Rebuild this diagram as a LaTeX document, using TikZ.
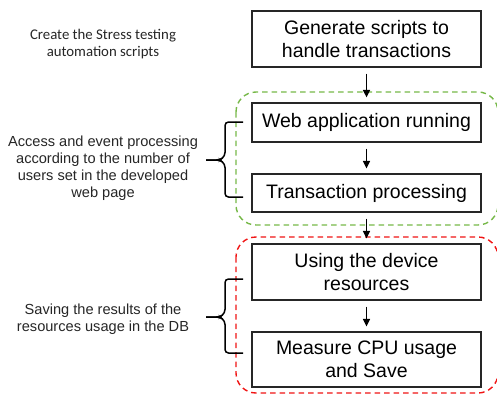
\documentclass[tikz,border=0pt]{standalone}
\usepackage{fontspec}
\setmainfont{Liberation Sans}
\newfontfamily\notefont{Carlito}
\usetikzlibrary{arrows.meta}
\definecolor{grpgreen}{RGB}{118,184,72}
\definecolor{grpred}{RGB}{240,20,20}
\tikzset{
  stepbox/.style={draw=black!85, line width=1.3pt, minimum width=229pt, align=center,
    font=\fontsize{19.5}{23}\selectfont, inner sep=0pt},
  flow/.style={line width=1.4pt, -{Triangle[width=7pt,length=7.5pt]}, shorten <=6pt, shorten >=5pt},
  group/.style={dash pattern=on 5.5pt off 4pt, line width=1.4pt, rounded corners=20pt},
  note/.style={align=center, font=\fontsize{14.6}{17}\selectfont, text=black!85},
  bracepath/.style={line width=1.5pt, rounded corners=3.5pt}
}
\begin{document}
\begin{tikzpicture}[x=1pt, y=-1pt]
\useasboundingbox (0,0) rectangle (497,394);

% dashed groups
\draw[group, grpgreen] (236,92) rectangle (498,225);
\draw[group, grpred] (236,237) rectangle (498,393);

% process steps
\node[stepbox, minimum height=56pt] (gen) at (366.5,39) {Generate scripts to\\handle transactions};
\node[stepbox, minimum height=39pt] (web) at (366.5,122.5) {Web application running};
\node[stepbox, minimum height=38pt] (trx) at (366.5,193) {Transaction processing};
\node[stepbox, minimum height=56pt] (dev) at (366.5,272) {Using the device\\resources};
\node[stepbox, minimum height=55pt] (cpu) at (366.5,359.5) {Measure CPU usage\\and Save};

\draw[flow] (gen) -- (web);
\draw[flow] (web) -- (trx);
\draw[flow] (trx) -- (dev);
\draw[flow] (dev) -- (cpu);

% side notes
\node[note, font=\notefont\fontsize{14.8}{17}\selectfont] (create) at (103,44.5) {Create the Stress testing\\automation scripts};
\node[note] (access) at (103,168) {Access and event processing\\according to the number of\\users set in the developed\\web page};
\node[note] (saving) at (103,319.5) {Saving the results of the\\resources usage in the DB};

% braces
\draw[bracepath] (243,122) -- (225,122) -- (225,156) -- (220,160) -- (206,160);
\draw[bracepath] (206,160) -- (220,160) -- (225,164) -- (225,197) -- (243,197);
\draw[bracepath] (243,279) -- (225,279) -- (225,313) -- (220,317) -- (206,317);
\draw[bracepath] (206,317) -- (220,317) -- (225,321) -- (225,353) -- (243,353);
\end{tikzpicture}
\end{document}
